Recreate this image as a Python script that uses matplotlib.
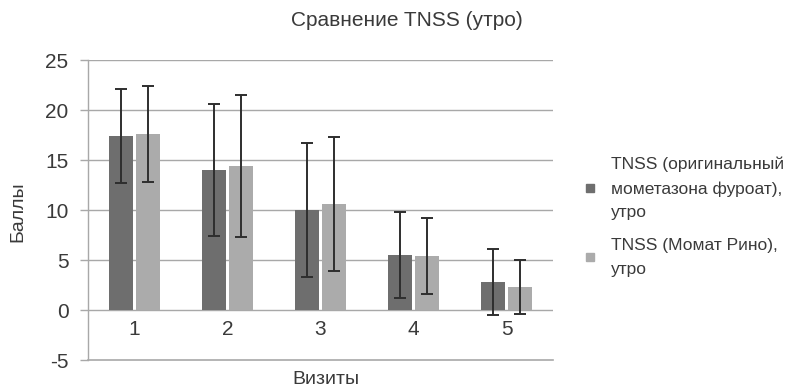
import matplotlib
matplotlib.use("Agg")
import matplotlib.pyplot as plt
import numpy as np
from matplotlib.lines import Line2D

plt.rcParams['font.family'] = ['Liberation Sans', 'DejaVu Sans']

visits = ["1", "2", "3", "4", "5"]
orig_mean = [17.4, 14.0, 10.0, 5.5, 2.8]
orig_err = [4.7, 6.6, 6.7, 4.3, 3.3]
momat_mean = [17.6, 14.4, 10.6, 5.4, 2.3]
momat_err = [4.8, 7.1, 6.7, 3.8, 2.7]
series_labels = ["TNSS (оригинальный\nмометазона фуроат),\nутро",
                 "TNSS (Момат Рино),\nутро"]
yticks = [-5, 0, 5, 10, 15, 20, 25]

W, H = 794, 392
fig = plt.figure(figsize=(W / 100, H / 100), dpi=100)
ax = fig.add_axes([88 / W, 1 - 360 / H, (553 - 88) / W, 300 / H])

x = np.arange(1, len(visits) + 1)
w = 0.26
off = 0.145
dark = "#6e6e6e"
light = "#ababab"
ecol = "#2e2e2e"
tcol = "#3a3a3a"

for yv in yticks[1:]:
    ax.axhline(yv, color="#a8a8a8", lw=1.0, zorder=0)

ax.bar(x - off, orig_mean, width=w, color=dark, zorder=2)
ax.bar(x + off, momat_mean, width=w, color=light, zorder=2)
ax.errorbar(x - off, orig_mean, yerr=orig_err, fmt="none", ecolor=ecol,
            elinewidth=1.4, capsize=4, capthick=1.4, zorder=3)
ax.errorbar(x + off, momat_mean, yerr=momat_err, fmt="none", ecolor=ecol,
            elinewidth=1.4, capsize=4, capthick=1.4, zorder=3)

ax.set_xlim(0.5, len(visits) + 0.5)
ax.set_ylim(-5, 25)
ax.set_yticks(yticks)
ax.set_yticklabels([str(v) for v in yticks], fontsize=15, color=tcol)
ax.set_xticks(x)
ax.set_xticklabels(visits, fontsize=15, color=tcol)
ax.tick_params(axis="x", length=0, pad=-29)
ax.tick_params(axis="y", length=6, width=1, color="#a8a8a8", pad=8, direction="out")

for s in ["top", "right"]:
    ax.spines[s].set_visible(False)
ax.spines["left"].set_color("#a8a8a8")
ax.spines["bottom"].set_color("#a8a8a8")
ax.spines["left"].set_linewidth(1.0)
ax.spines["bottom"].set_linewidth(1.2)

fig.text(407 / W, 1 - 20 / H, "Сравнение TNSS (утро)", ha="center", va="center",
         fontsize=15, color=tcol)
fig.text(326 / W, 1 - 380 / H, "Визиты", ha="center", va="center",
         fontsize=14, color=tcol)
fig.text(18 / W, 1 - 212 / H, "Баллы", ha="center", va="center", rotation=90,
         fontsize=14, color=tcol)

handles = [Line2D([], [], marker="s", ls="none", color=dark, markersize=5.5),
           Line2D([], [], marker="s", ls="none", color=light, markersize=5.5)]
leg = fig.legend(handles, series_labels, loc="upper left",
                 bbox_to_anchor=(576 / W, 1 - 150 / H), frameon=False,
                 fontsize=12.5, handlelength=0.8, handletextpad=0.8,
                 labelspacing=1.05, borderaxespad=0)
for t in leg.get_texts():
    t.set_color(tcol)
    t.set_linespacing(1.7)

fig.savefig("out.png", dpi=100)
